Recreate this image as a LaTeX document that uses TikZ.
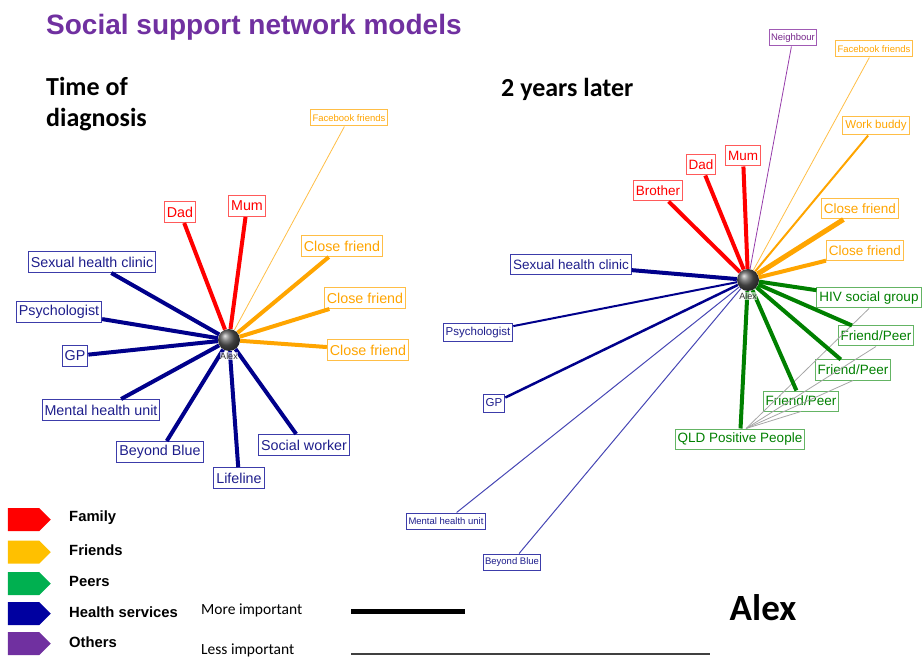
\documentclass[tikz,border=0pt]{standalone}
\usepackage{fontspec}
\setmainfont{Liberation Sans}
\newfontfamily\calibri{Carlito}
\usetikzlibrary{positioning,shapes.symbols}

\definecolor{titlepurple}{RGB}{112,48,160}
\definecolor{famtext}{RGB}{255,0,0}
\definecolor{famline}{RGB}{255,90,90}
\definecolor{fritext}{RGB}{255,165,0}
\definecolor{friline}{RGB}{255,190,70}
\definecolor{peertext}{RGB}{0,128,0}
\definecolor{peerline}{RGB}{100,180,100}
\definecolor{hstext}{RGB}{30,30,140}
\definecolor{hsline}{RGB}{60,60,170}
\definecolor{hsedge}{RGB}{0,0,139}
\definecolor{hsthin}{RGB}{70,70,180}
\definecolor{othtext}{RGB}{120,40,140}
\definecolor{othline}{RGB}{160,90,180}
\definecolor{othedge}{RGB}{150,60,170}
\definecolor{legred}{RGB}{255,0,0}
\definecolor{leggold}{RGB}{255,192,0}
\definecolor{leggreen}{RGB}{0,176,80}
\definecolor{legblue}{RGB}{0,0,160}
\definecolor{legpurple}{RGB}{112,48,160}

\begin{document}
\begin{tikzpicture}[
    x=1pt, y=-1pt,
    box/.style={rectangle, draw, line width=1pt, fill=white, inner xsep=2.5pt, inner ysep=1pt, minimum height=20pt, font=\fontsize{13.5}{15}\selectfont},
    bigbox/.style={box, minimum height=21pt, font=\fontsize{14.3}{16}\selectfont},
    midbox/.style={box, minimum height=18pt, font=\fontsize{11.5}{13}\selectfont},
    smallbox/.style={box, minimum height=16pt, inner xsep=2pt, font=\fontsize{9.5}{11}\selectfont},
    fam/.style={draw=famline, text=famtext},
    fri/.style={draw=friline, text=fritext},
    peer/.style={draw=peerline, text=peertext},
    hs/.style={draw=hsline, text=hstext},
    oth/.style={draw=othline, text=othtext},
    link/.style={line width=4pt},
    ball/.style={circle, minimum size=22pt, inner sep=0pt, ball color=gray!70!black},
    alexlbl/.style={font=\fontsize{9}{10}\selectfont, text=black!80, inner sep=0.5pt, fill=white, fill opacity=0.6, text opacity=1},
    head/.style={font=\calibri\bfseries\fontsize{26}{31}\selectfont, inner sep=0pt, align=left},
    legshape/.style={signal, signal to=east, minimum width=43pt, minimum height=23pt, inner sep=0pt, draw=none},
    legtext/.style={font=\bfseries\fontsize{14.8}{17}\selectfont, inner sep=0pt},
    imptext/.style={font=\calibri\fontsize{15.5}{17}\selectfont, inner sep=0pt}
]
\useasboundingbox (0,0) rectangle (924,660);

% Titles
\node[anchor=base west, inner sep=0pt, text=titlepurple, font=\bfseries\fontsize{28}{32}\selectfont] (title) at (46,35) {Social support network models};
\node[head, anchor=north west] (lhead) at (46,77) {Time of\\diagnosis};
\node[head, anchor=base west] (rhead) at (501,97) {2 years later};

% Left network: time of diagnosis
\node[ball] (lalex) at (229,340) {};
\node[bigbox, fam] (ldad) at (180,212) {Dad};
\node[bigbox, fam] (lmum) at (247,206) {Mum};
\node[smallbox, fri] (lfb) at (349,118) {Facebook friends};
\node[bigbox, fri] (lcf1) at (342,246) {Close friend};
\node[bigbox, fri] (lcf2) at (365,298) {Close friend};
\node[bigbox, fri] (lcf3) at (368,350) {Close friend};
\node[bigbox, hs] (lshc) at (92,262) {Sexual health clinic};
\node[bigbox, hs] (lpsy) at (59,312) {Psychologist};
\node[bigbox, hs] (lgp) at (75,356) {GP};
\node[bigbox, hs] (lmhu) at (101,410) {Mental health unit};
\node[bigbox, hs] (lbb) at (160,452) {Beyond Blue};
\node[bigbox, hs] (lline) at (239,478) {Lifeline};
\node[bigbox, hs] (lsw) at (304,445) {Social worker};

% Links - left network
\foreach \n in {ldad,lmum}
    \draw[link, famtext] (lalex) -- (\n);
\foreach \n in {lcf1,lcf2,lcf3}
    \draw[link, fritext] (lalex) -- (\n);
\draw[line width=0.8pt, friline] (lalex) -- (lfb);
\foreach \n in {lshc,lpsy,lgp,lmhu,lbb,lline,lsw}
    \draw[link, hsedge] (lalex) -- (\n);
\node[alexlbl, below=1pt of lalex] (lalexname) {Alex};

% Right network: 2 years later
\node[ball] (ralex) at (748,280) {};
\node[smallbox, oth] (rnb) at (793,38) {Neighbour};
\node[smallbox, fri] (rfb) at (874,49) {Facebook friends};
\node[midbox, fri] (rwb) at (876,126) {Work buddy};
\node[box, fam] (rmum) at (743,156) {Mum};
\node[box, fam] (rdad) at (701,165) {Dad};
\node[box, fam] (rbro) at (658,191) {Brother};
\node[box, fri] (rcf1) at (860,209) {Close friend};
\node[box, fri] (rcf2) at (865,251) {Close friend};
\node[box, hs] (rshc) at (571,265) {Sexual health clinic};
\node[midbox, hs] (rpsy) at (478,333) {Psychologist};
\node[midbox, hs] (rgp) at (494,403) {GP};
\node[smallbox, hs] (rmhu) at (446,521) {Mental health unit};
\node[smallbox, hs] (rbb) at (512,562) {Beyond Blue};
\node[box, peer] (rhiv) at (869,298) {HIV social group};
\node[box, peer] (rfp1) at (876,336) {Friend/Peer};
\node[box, peer] (rfp2) at (853,370) {Friend/Peer};
\node[box, peer] (rfp3) at (801,401) {Friend/Peer};
\node[box, peer] (rqld) at (740,439) {QLD Positive People};

% Links - peers among themselves
\foreach \n in {rhiv,rfp1,rfp2,rfp3}
    \draw[line width=0.8pt, gray!70] (rqld.60) -- (\n.south);

% Links - right network
\foreach \n in {rbro,rdad,rmum}
    \draw[link, famtext] (ralex) -- (\n);
\draw[line width=0.8pt, othedge] (ralex) -- (rnb);
\draw[line width=0.8pt, friline] (ralex) -- (rfb);
\draw[line width=2pt, fritext] (ralex) -- (rwb);
\draw[line width=5pt, fritext] (ralex) -- (rcf1);
\draw[link, fritext] (ralex) -- (rcf2);
\draw[link, hsedge] (ralex) -- (rshc);
\draw[line width=2pt, hsedge] (ralex) -- (rpsy);
\draw[line width=2.5pt, hsedge] (ralex) -- (rgp);
\draw[line width=1pt, hsthin] (ralex) -- (rmhu);
\draw[line width=1pt, hsthin] (ralex) -- (rbb);
\foreach \n in {rhiv,rfp1,rfp2,rfp3,rqld}
    \draw[link, peertext] (ralex) -- (\n);
\node[alexlbl, below=1pt of ralex] (ralexname) {Alex};

% Legend
\node[legshape, fill=legred] (lgfam) at (23.5,519.5) {};
\node[legshape, fill=leggold] (lgfri) at (23.5,552) {};
\node[legshape, fill=leggreen] (lgpeer) at (23.5,583.5) {};
\node[legshape, fill=legblue] (lghs) at (23.5,613.5) {};
\node[legshape, fill=legpurple] (lgoth) at (23.5,643.5) {};
\node[legtext, right=18pt of lgfam, yshift=2pt] (lgfamtxt) {Family};
\node[legtext, right=18pt of lgfri, yshift=2pt] (lgfritxt) {Friends};
\node[legtext, right=18pt of lgpeer, yshift=2pt] (lgpeertxt) {Peers};
\node[legtext, right=18pt of lghs, yshift=1pt] (lghstxt) {Health services};
\node[legtext, right=18pt of lgoth, yshift=1pt] (lgothtxt) {Others};

% Line weight key
\node[imptext, anchor=west] (more) at (201,610) {More important};
\node[imptext, anchor=west] (less) at (201,650) {Less important};
\coordinate (morea) at (351,611);
\coordinate (moreb) at (465,611);
\coordinate (lessa) at (351,654);
\coordinate (lessb) at (710,654);
\draw[line width=5pt] (morea) -- (moreb);
\draw[line width=1.5pt, black!75] (lessa) -- (lessb);

\node[font=\calibri\bfseries\fontsize{37}{40}\selectfont, inner sep=0pt] (alexname) at (763,608) {Alex};

\end{tikzpicture}
\end{document}
